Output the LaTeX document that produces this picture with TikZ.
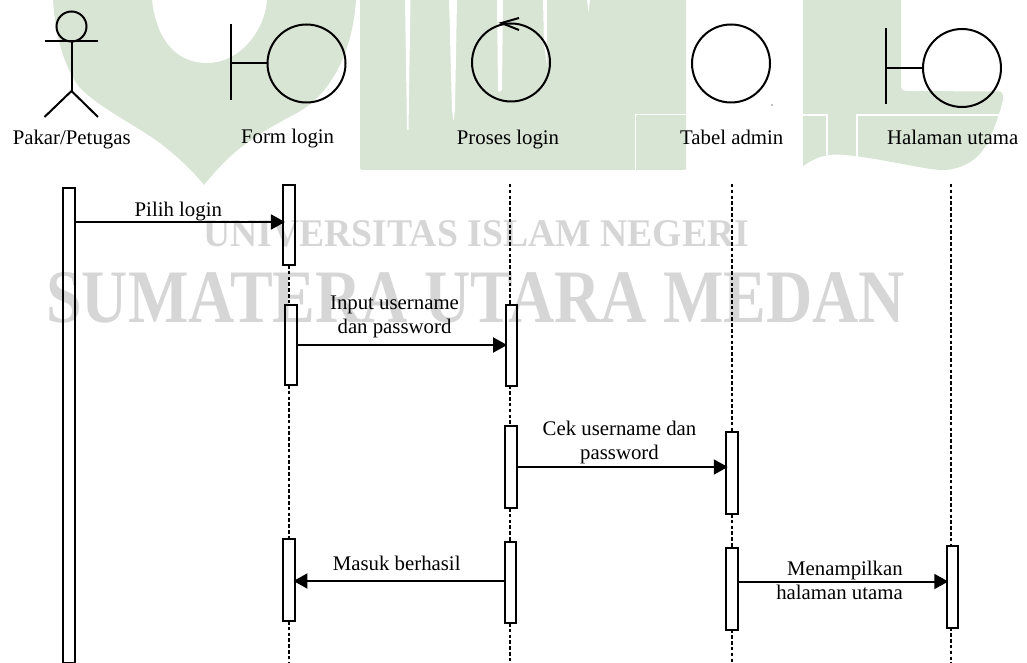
\documentclass[tikz,border=0pt]{standalone}
\usepackage{fontspec}
\usepackage{graphicx}
\setmainfont{Liberation Serif}
\usetikzlibrary{arrows.meta,calc}
\definecolor{wmgreen}{HTML}{D8E4D4}
\definecolor{wmgray}{HTML}{D6D6D6}
\tikzset{
  x=1pt,y=-1pt,
  ink/.style={draw=black,line width=2pt},
  lab/.style={anchor=base,inner sep=0pt,font=\fontsize{20.8pt}{24pt}\selectfont,text=black},
  bar/.style={draw=black,line width=2pt,minimum width=11.5pt,inner sep=0pt,outer sep=0pt,anchor=north},
  life/.style={draw=black,line width=2pt,dash pattern=on 3.5pt off 2.3pt},
  msg/.style={draw=black,line width=2pt,-{Triangle[length=14pt,width=15pt]},shorten >=-1.5pt},
  round circle/.style={circle,draw=black,line width=2pt,minimum size=78pt,inner sep=0pt,outer sep=0pt},
  slit/.style={fill=white,draw=none},
  wmline/.style={draw=white,line width=1.5pt}
}
\begin{document}
\begin{tikzpicture}
\useasboundingbox (0,0) rectangle (1027,663);
% ---- watermark ----
\fill[wmgreen] (53,0) .. controls (55,30) and (62,65) .. (80,88) .. controls (100,108) and (135,125) .. (160,143) .. controls (178,157) and (192,170) .. (204,185)
  .. controls (216,170) and (230,155) .. (247,143) .. controls (265,130) and (280,122) .. (293,115) .. controls (325,100) and (352,60) .. (356,0) -- cycle;
\fill[white] (152,0) .. controls (155,30) and (170,63) .. (207,63) .. controls (240,63) and (265,30) .. (267,0) -- cycle;
\fill[wmgreen,rounded corners=1.5pt] (360,-3) -- (686,-3) -- (686,170) -- (360,170) -- cycle;
\fill[slit] (405,0) -- (410.5,0) -- (408.5,130) -- (407,130) -- cycle;
\fill[slit] (449,0) -- (457,0) -- (455,110) -- (453.5,121) -- (452,110) -- cycle;
\fill[slit] (497,0) -- (503,0) -- (502,90) -- (499,92) -- (498,90) -- cycle;
\fill[slit] (543,0) -- (547,0) -- (547,66) -- (544,45) -- cycle;
\fill[slit] (587,0) -- (590,0) -- (588.5,12) -- cycle;
\draw[wmline] (686,114.5) -- (635.5,114.5) -- (635.5,170);
\fill[wmgreen] (803,-3) -- (901,-3) -- (901,87) .. controls (901,90) and (903,91) .. (906,91) -- (1000,91.5) .. controls (1003,92) and (1003,95) .. (1003,100)
  .. controls (999,115) and (993,135) .. (983,150) .. controls (975,162) and (958,170) .. (943,170)
  .. controls (925,170) and (880,158) .. (845,155) .. controls (825,153) and (815,158) .. (803,166) -- cycle;
\draw[wmline] (803,115) -- (827,115) -- (827,155);
\draw[wmline] (857,157) -- (857,115) -- (1000,115);
\node[inner sep=0pt,anchor=north west,text=wmgray] (wm1) at (203,220) {\resizebox{546pt}{26pt}{\bfseries UNIVERSITAS ISLAM NEGERI}};
\node[inner sep=0pt,anchor=north west,text=wmgray] (wm2) at (46,272) {\resizebox{859pt}{50pt}{\bfseries SUMATERA UTARA MEDAN}};
% ---- actor ----
\node[circle,draw=black,line width=2pt,minimum size=30pt,inner sep=0pt,outer sep=0pt] (head) at (71.5,26.5) {};
\coordinate (neck) at (71.5,41);
\coordinate (hip) at (71.5,91);
\coordinate (armL) at (44.5,41);
\coordinate (armR) at (98,41);
\coordinate (legL) at (44.5,117);
\coordinate (legR) at (98,117);
\draw[ink] (armL) -- (armR);
\draw[ink] (neck) -- (hip);
\draw[ink] (legL) -- (hip) -- (legR);
% ---- form boundary ----
\node[round circle] (form) at (306.5,63.5) {};
\coordinate (formT) at (230.5,24);
\coordinate (formB) at (230.5,100);
\draw[ink] (formT) -- (formB);
\draw[ink] (form.west) -- (form.west -| formT);
% ---- control ----
\node[round circle] (proc) at (511,62.5) {};
\coordinate (procTip) at (501.5,23);
\coordinate (procA) at (519,18);
\coordinate (procB) at (519,30);
\draw[ink] (procA) -- (procTip) -- (procB);
% ---- entity ----
\node[round circle] (tbl) at (731,63.5) {};
\fill[black] (772,105) circle (0.6pt);
% ---- halaman boundary ----
\node[round circle] (hal) at (962,68) {};
\coordinate (halT) at (886.3,28);
\coordinate (halB) at (886.3,104);
\draw[ink] (halT) -- (halB);
\draw[ink] (hal.west) -- (hal.west -| halT);
% ---- head labels ----
\node[lab] (l1) at (71.7,145) {Pakar/Petugas};
\node[lab] (l2) at (287.6,144) {Form login};
\node[lab] (l3) at (508,145) {Proses login};
\node[lab] (l4) at (731.7,145) {Tabel admin};
\node[lab] (l5) at (952.7,145) {Halaman utama};
% ---- lifeline ends ----
\coordinate (pTop) at (509.5,184);
\coordinate (tTop) at (731.7,184);
\coordinate (hTop) at (951.3,184);
\coordinate (fBot) at (289,663);
\coordinate (pBot) at (509.5,663);
\coordinate (tBot) at (731.7,663);
\coordinate (hBot) at (951.3,663);
% ---- activation bars ----
\node[bar,minimum height=475pt] (a) at (69,188) {};
\node[bar,minimum height=80pt] (f1) at (289.2,185) {};
\node[bar,minimum height=80pt] (f2) at (291,305) {};
\node[bar,minimum height=82pt] (f3) at (289.2,539) {};
\node[bar,minimum height=80.5pt] (p1) at (511.3,305) {};
\node[bar,minimum height=82pt] (p2) at (511,426) {};
\node[bar,minimum height=81.5pt] (p3) at (510.7,541.5) {};
\node[bar,minimum height=82pt] (t1) at (732,432) {};
\node[bar,minimum height=82pt] (t2) at (732,547.5) {};
\node[bar,minimum height=82pt] (h1) at (952.5,545.5) {};
% ---- lifelines ----
\draw[life] (f1.south -| fBot) -- (f2.north -| fBot);
\draw[life] (f2.south -| fBot) -- (f3.north -| fBot);
\draw[life] (f3.south -| fBot) -- (fBot);
\draw[life] (pTop) -- (p1.north -| pTop);
\draw[life] (p1.south -| pTop) -- (p2.north -| pTop);
\draw[life] (p2.south -| pTop) -- (p3.north -| pTop);
\draw[life] (p3.south -| pTop) -- (pBot);
\draw[life] (tTop) -- (t1.north -| tTop);
\draw[life] (t1.south -| tTop) -- (t2.north -| tTop);
\draw[life] (t2.south -| tTop) -- (tBot);
\draw[life] (hTop) -- (h1.north -| hTop);
\draw[life] (h1.south -| hTop) -- (hBot);
% ---- messages ----
\draw[msg] (a.east |- 0,222) -- (f1.west |- 0,222);
\draw[msg] (f2.east |- 0,345) -- (p1.west |- 0,345);
\draw[msg] (p2.east |- 0,467) -- (t1.west |- 0,467);
\draw[msg] (p3.west |- 0,581) -- (f3.east |- 0,581);
\draw[msg] (t2.east |- 0,581.5) -- (h1.west |- 0,581.5);
% ---- message labels ----
\node[lab] (m1) at (178.3,216.7) {Pilih login};
\node[lab,align=center] (m2) at (394.5,333) {Input username\\dan password};
\node[lab,align=center] (m3) at (619.5,459) {Cek username dan\\password};
\node[lab] (m4) at (396.7,570) {Masuk berhasil};
\node[lab,align=right] (m5) at (839.5,599) {Menampilkan\\halaman utama};
\end{tikzpicture}
\end{document}
